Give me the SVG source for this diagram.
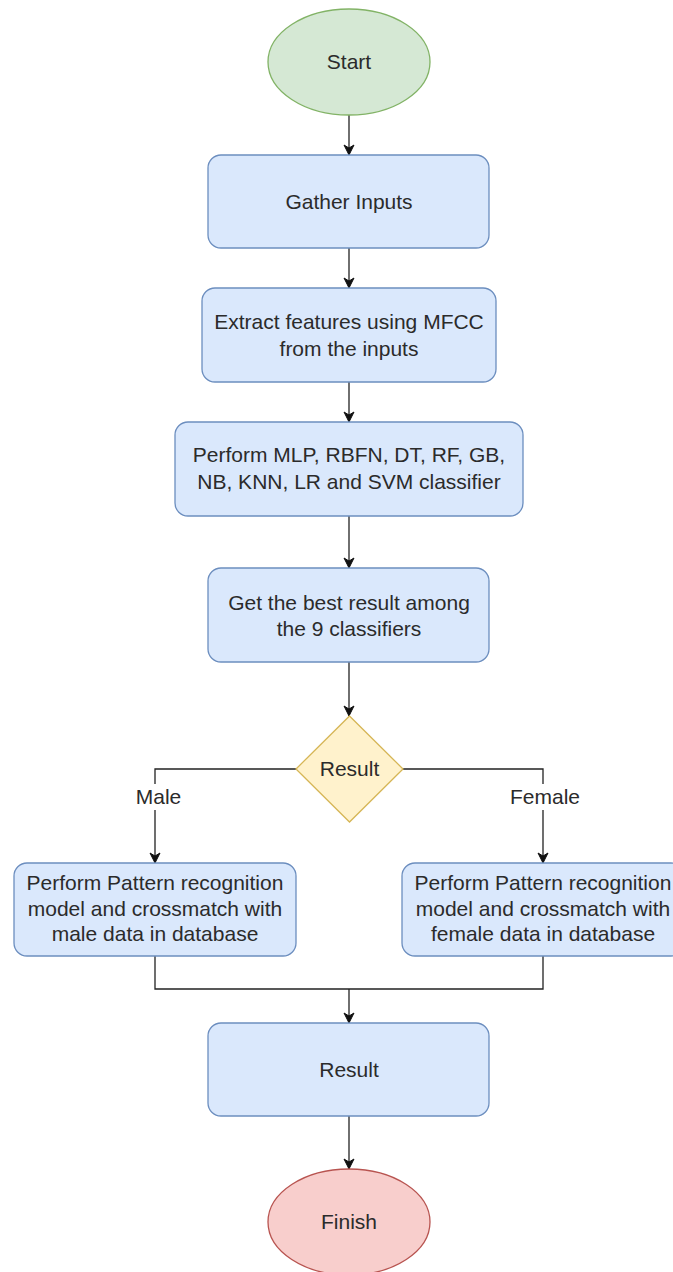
<svg xmlns="http://www.w3.org/2000/svg" width="673" height="1272" viewBox="0 0 673 1272">
<defs>
<style>
text{font-family:"Liberation Sans",Arial,Helvetica,sans-serif;font-size:21px;fill:#2b2b2b;text-anchor:middle}
.proc{fill:#dae8fc;stroke:#6c8ebf;stroke-width:1.3}
.start{fill:#d5e8d4;stroke:#82b366;stroke-width:1.3}
.finish{fill:#f8cecc;stroke:#b85450;stroke-width:1.3}
.dec{fill:#fff2cc;stroke:#d6b656;stroke-width:1.3}
.edge{fill:none;stroke:#222;stroke-width:1.3}
.arr{marker-end:url(#ah)}
</style>
<marker id="ah" markerUnits="userSpaceOnUse" markerWidth="13" markerHeight="13" refX="11" refY="6.5" orient="auto" viewBox="0 0 13 13">
<path d="M1,1.5 L11,6.5 L1,11.5 L4,6.5 Z" fill="#111" stroke="#111" stroke-width="1"/>
</marker>
</defs>
<rect width="673" height="1272" fill="#fff"/>
<g id="connectors">
<path class="edge arr" d="M349,115 V155"/>
<path class="edge arr" d="M349,248 V288"/>
<path class="edge arr" d="M349,382 V422"/>
<path class="edge arr" d="M349,516 V568"/>
<path class="edge arr" d="M349,662 V716"/>
<path class="edge arr" d="M296,769 H155 V863"/>
<path class="edge arr" d="M403,769 H543 V863"/>
<path class="edge" d="M155,956 V989 H543 V956"/>
<path class="edge arr" d="M349,989 V1023"/>
<path class="edge arr" d="M349,1116 V1169"/>
<g id="labels">
<rect x="133" y="784" width="51" height="26" fill="#fff"/>
<text x="158.5" y="804">Male</text>
<rect x="508" y="784" width="74" height="26" fill="#fff"/>
<text x="545" y="804">Female</text>
</g>
</g>
<g id="start">
<ellipse class="start" cx="349" cy="62" rx="81" ry="53"/>
<text x="349" y="69">Start</text>
</g>
<g id="gather">
<rect class="proc" x="208" y="155" width="281" height="93" rx="13"/>
<text x="349" y="208.5">Gather Inputs</text>
</g>
<g id="extract">
<rect class="proc" x="202" y="288" width="294" height="94" rx="13"/>
<text x="349" y="329">Extract features using MFCC</text>
<text x="349" y="356">from the inputs</text>
</g>
<g id="classify">
<rect class="proc" x="175" y="422" width="348" height="94" rx="13"/>
<text x="349" y="462">Perform MLP, RBFN, DT, RF, GB,</text>
<text x="349" y="489">NB, KNN, LR and SVM classifier</text>
</g>
<g id="best">
<rect class="proc" x="208" y="568" width="281" height="94" rx="13"/>
<text x="349" y="610">Get the best result among</text>
<text x="349" y="636">the 9 classifiers</text>
</g>
<g id="decision">
<polygon class="dec" points="349.5,716 403,769 349.5,822 296,769"/>
<text x="349.5" y="776">Result</text>
</g>
<g id="male">
<rect class="proc" x="14" y="863" width="282" height="93" rx="13"/>
<text x="155" y="890">Perform Pattern recognition</text>
<text x="155" y="916">model and crossmatch with</text>
<text x="155" y="941">male data in database</text>
</g>
<g id="female">
<rect class="proc" x="402" y="863" width="282" height="93" rx="13"/>
<text x="543" y="890">Perform Pattern recognition</text>
<text x="543" y="916">model and crossmatch with</text>
<text x="543" y="941">female data in database</text>
</g>
<g id="result">
<rect class="proc" x="208" y="1023" width="281" height="93" rx="13"/>
<text x="349" y="1077">Result</text>
</g>
<g id="finish">
<ellipse class="finish" cx="349" cy="1222" rx="81" ry="53"/>
<text x="349" y="1229">Finish</text>
</g>
</svg>
